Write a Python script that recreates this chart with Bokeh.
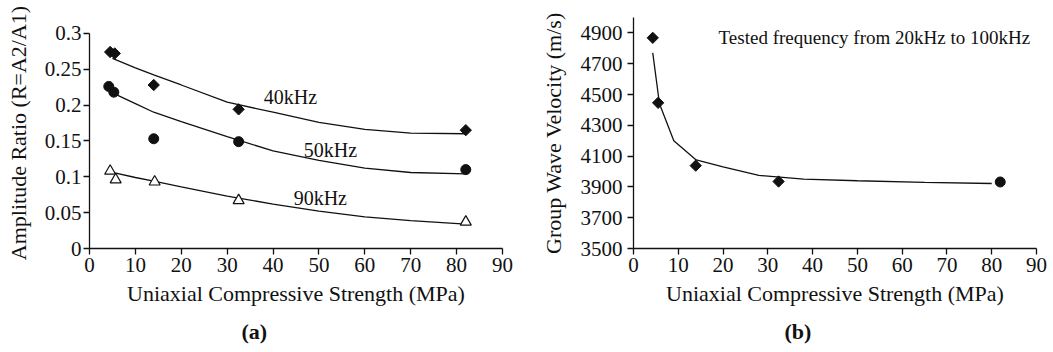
import numpy as np
from bokeh.plotting import figure
from bokeh.models import Range1d, FixedTicker, Label, Title
from bokeh.layouts import row
from bokeh.embed import file_html
from bokeh.resources import INLINE
from bokeh.core.properties import value

# ---------------- data: panel (a) ----------------
ucs_a = [4.5, 5.5, 14, 32.5, 82]
r40 = [0.274, 0.272, 0.228, 0.194, 0.165]
ucs_50 = [4.2, 5.3, 14, 32.5, 82]
r50 = [0.226, 0.218, 0.153, 0.149, 0.110]
ucs_90 = [4.5, 5.7, 14.2, 32.5, 82]
r90 = [0.108, 0.096, 0.093, 0.067, 0.037]

fit_x = [5, 10, 14, 20, 30, 40, 50, 60, 70, 82]
fit40 = [0.265, 0.252, 0.242, 0.228, 0.204, 0.19, 0.176, 0.166, 0.161, 0.16]
fit50 = [0.217, 0.202, 0.19, 0.177, 0.156, 0.136, 0.123, 0.112, 0.106, 0.104]
fit90 = [0.106, 0.099, 0.094, 0.086, 0.073, 0.062, 0.052, 0.044, 0.039, 0.034]

curve_labels = ["40kHz", "50kHz", "90kHz"]
label_x = [43.8, 52.5, 50.3]
label_y = [0.211, 0.137, 0.071]

ticks_a_y = [0, 0.05, 0.1, 0.15, 0.2, 0.25, 0.3]
ticks_a_y_labels = ["0", "0.05", "0.1", "0.15", "0.2", "0.25", "0.3"]
ticks_x = [0, 10, 20, 30, 40, 50, 60, 70, 80, 90]

# ---------------- data: panel (b) ----------------
ucs_b = [4.3, 5.5, 13.9, 32.4]
vel_b = [4868, 4446, 4038, 3935]
ucs_b_circle = [81.9]
vel_b_circle = [3932]
fitb_x = [4.3, 5.8, 9, 14, 20, 28, 38, 50, 65, 80]
fitb_y = [4770, 4440, 4200, 4075, 4030, 3975, 3950, 3940, 3930, 3922]
ticks_b_y = [3500, 3700, 3900, 4100, 4300, 4500, 4700, 4900]
note_b = "Tested frequency from 20kHz to 100kHz"

FONT = "Liberation Serif"
INK = "#111111"


def style(p, yticks, xlabel, ylabel, label_standoff_y):
    p.outline_line_color = None
    p.xgrid.visible = False
    p.ygrid.visible = False
    for ax in (p.xaxis[0], p.yaxis[0]):
        ax.axis_line_color = INK
        ax.axis_line_width = 1.3
        ax.major_tick_line_color = INK
        ax.major_tick_line_width = 1.3
        ax.major_tick_out = 6
        ax.major_tick_in = 0
        ax.minor_tick_out = 0
        ax.minor_tick_in = 0
        ax.major_label_text_font = FONT
        ax.major_label_text_font_size = "21px"
        ax.major_label_text_color = INK
        ax.axis_label_text_font = FONT
        ax.axis_label_text_font_size = "22px"
        ax.axis_label_text_font_style = "normal"
        ax.axis_label_text_color = INK
    p.xaxis.ticker = FixedTicker(ticks=ticks_x)
    p.yaxis.ticker = FixedTicker(ticks=yticks)
    p.xaxis.axis_label = xlabel
    p.yaxis.axis_label = ylabel
    p.xaxis.major_label_standoff = 3
    p.xaxis.axis_label_standoff = 6
    p.yaxis.major_label_standoff = 2
    p.yaxis.axis_label_standoff = label_standoff_y
    p.background_fill_color = "white"
    p.border_fill_color = "white"


def panel_tag(p, text, offset):
    p.add_layout(Title(text=text, align="left", offset=offset, text_font=FONT,
                       text_font_size="22px", text_font_style="bold",
                       text_color=INK, standoff=17), "below")


# ---------------- panel (a) ----------------
pa = figure(width=520, height=352, output_backend="svg", toolbar_location=None,
            title=None, x_range=Range1d(0, 90), y_range=Range1d(0, 0.3221),
            min_border_left=89, min_border_right=18, min_border_top=17,
            min_border_bottom=102)
style(pa, ticks_a_y, "Uniaxial Compressive Strength (MPa)", "Amplitude Ratio (R=A2/A1)", 11)
pa.yaxis.major_label_overrides = {t: s for t, s in zip(ticks_a_y, ticks_a_y_labels)}
pa.yaxis.bounds = (0, 0.3)

pa.line(fit_x, fit40, line_color=INK, line_width=1.3)
pa.line(fit_x, fit50, line_color=INK, line_width=1.3)
pa.line(fit_x, fit90, line_color=INK, line_width=1.3)
pa.scatter(ucs_a, r40, marker="square", angle=np.pi / 4, size=8,
           fill_color=INK, line_color=INK)
pa.scatter(ucs_50, r50, marker="circle", size=10, fill_color=INK, line_color=INK)
pa.scatter(ucs_90, r90, marker="triangle", size=11, fill_color="white",
           line_color=INK, line_width=1.2)
pa.text(label_x, label_y, text=curve_labels, text_font=value(FONT),
        text_font_size="20px", text_align="center", text_baseline="middle",
        text_color=INK)
panel_tag(pa, "(a)", 152)

# ---------------- panel (b) ----------------
pb = figure(width=533, height=352, output_backend="svg", toolbar_location=None,
            title=None, x_range=Range1d(0, 90), y_range=Range1d(3500, 5000),
            min_border_left=113, min_border_right=17, min_border_top=17,
            min_border_bottom=102)
style(pb, ticks_b_y, "Uniaxial Compressive Strength (MPa)", "Group Wave Velocity (m/s)", 12)
pb.yaxis.major_label_standoff = 5

pb.line(fitb_x, fitb_y, line_color=INK, line_width=1.3)
pb.scatter(ucs_b, vel_b, marker="square", angle=np.pi / 4, size=8,
           fill_color=INK, line_color=INK)
pb.scatter(ucs_b_circle, vel_b_circle, marker="circle", size=10,
           fill_color=INK, line_color=INK)
pb.add_layout(Label(x=19, y=4870, text=note_b, text_font=FONT, text_font_size="19px",
                    text_align="left", text_baseline="middle", text_color=INK))
panel_tag(pb, "(b)", 151)

layout = row(pa, pb)
open("out.html", "w").write(file_html(layout, INLINE))
